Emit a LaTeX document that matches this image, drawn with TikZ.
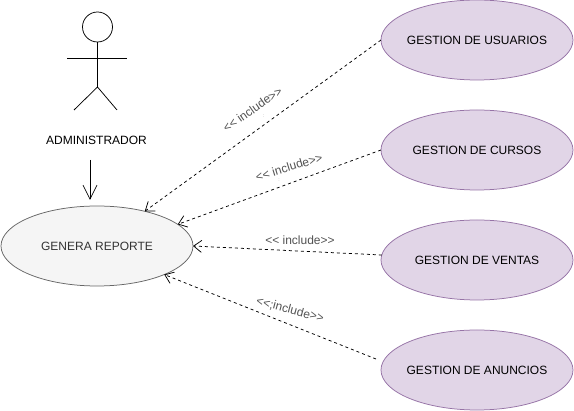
\documentclass[tikz,border=0pt]{standalone}
\usepackage{fontspec}
\setmainfont{Liberation Sans}
\usetikzlibrary{shapes.geometric,arrows.meta}
\definecolor{lilacfill}{HTML}{E1D5E7}
\definecolor{lilacline}{HTML}{9673A6}
\definecolor{greyfill}{HTML}{F5F5F5}
\definecolor{greyline}{HTML}{666666}
\definecolor{greytext}{HTML}{333333}
\begin{document}
\begin{tikzpicture}[x=1pt,y=-1pt]
\tikzstyle{every node}+=[inner sep=0pt,outer sep=0pt,font=\fontsize{12}{14}\selectfont]
\tikzstyle{gestion}=[draw=lilacline,fill=lilacfill,ellipse,inner xsep=-15pt,minimum width=192pt,minimum height=80pt,line width=0.75pt]
\tikzstyle{reporte}=[draw=greyline,fill=greyfill,text=greytext,ellipse,minimum width=192pt,minimum height=80pt,line width=0.75pt]
\tikzstyle{include}=[draw=black,dash pattern=on 3pt off 3pt,line width=0.75pt,-{Straight Barb[length=8pt,width=12pt]}]
\tikzstyle{rotulo}=[text=greytext!85!white]
\tikzstyle{marca}=[text=black!35,font=\fontsize{5}{6}\selectfont]
\useasboundingbox (0,0) rectangle (574,411);
\node [gestion] (usuarios) at (477,40) {GESTION DE USUARIOS};
\node [gestion] (cursos) at (477,150) {GESTION DE CURSOS};
\node [gestion] (ventas) at (477,260) {GESTION DE VENTAS};
\node [gestion] (anuncios) at (477,370) {GESTION DE ANUNCIOS};
\node [reporte] (genera) at (97,246) {GENERA REPORTE};
% actor
\node [draw,circle,minimum size=30pt,line width=0.75pt] (cabeza) at (97.5,27) {};
\coordinate (cadera) at (97.5,87);
\coordinate (brazoi) at (67,58);
\coordinate (brazod) at (127,58);
\coordinate (piei) at (74,110);
\coordinate (pied) at (117,110);
\draw [line width=0.75pt] (cabeza) -- (cadera);
\draw [line width=0.75pt] (brazoi) -- (brazod);
\draw [line width=0.75pt] (piei) -- (cadera) -- (pied);
\node (admin) at (96.5,140) {ADMINISTRADOR};
\coordinate (flechaini) at (90,160);
\coordinate (flechafin) at (90,200);
\draw [line width=0.75pt,-{Straight Barb[length=14pt,width=14pt]}] (flechaini) -- (flechafin);
% include
\coordinate (anunciosfin) at (376,359);
\draw [include] (usuarios.west) -- (genera.36);
\draw [include] (cursos.west) -- (genera.15.6);
\draw [include] (ventas.177) -- (genera.east);
\draw [include] (anunciosfin) -- (genera.-23);
\node [rotulo,rotate=35] (inc1) at (252.5,109.5) {<{}< include>{}>};
\node [rotulo,rotate=17] (inc2) at (289,167) {<{}< include>{}>};
\node [rotulo] (inc3) at (300,240) {<{}< include>{}>};
\node [rotulo,rotate=-15] (inc4) at (290,310) {<{}<;include>{}>};
\node [marca] (marca1) at (263.5,116) {:};
\node [marca] (marca2) at (279,180) {:};
\end{tikzpicture}
\end{document}
